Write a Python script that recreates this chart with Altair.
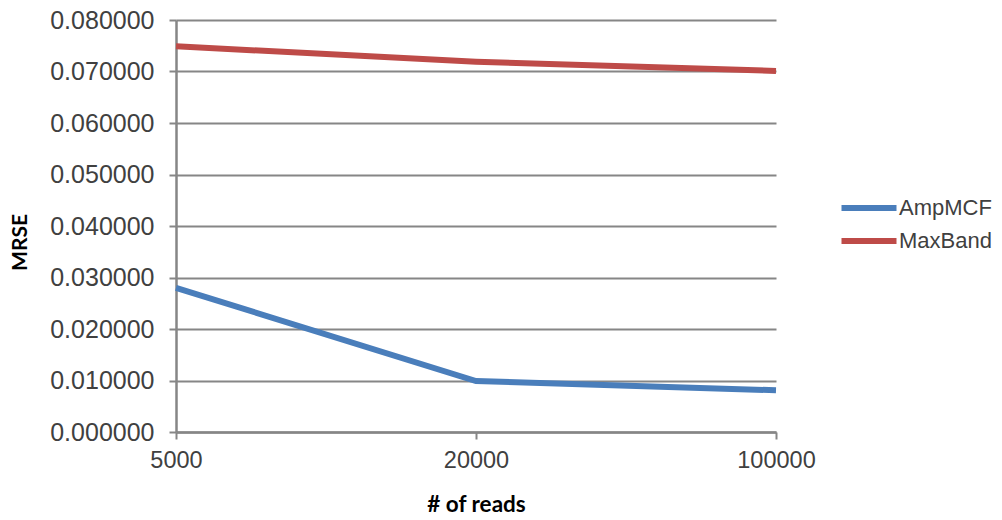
import altair as alt
import pandas as pd

reads = ["5000", "20000", "100000"]
ampmcf = [0.028, 0.0099, 0.0081]
maxband = [0.0749, 0.0719, 0.0701]
series_names = ["AmpMCF", "MaxBand"]
series_colors = ["#4a7ebb", "#be4b48"]

rows = []
for r, v in zip(reads, ampmcf):
    rows.append({"reads": r, "mrse": v, "series": "AmpMCF"})
for r, v in zip(reads, maxband):
    rows.append({"reads": r, "mrse": v, "series": "MaxBand"})
df = pd.DataFrame(rows)

TXT = "#404040"
GRID = "#868686"

chart = alt.Chart(df).mark_line(strokeWidth=6, strokeCap="butt").encode(
    x=alt.X("reads:N", sort=reads,
            scale=alt.Scale(type="point", padding=0),
            axis=alt.Axis(title="# of reads", labelAngle=0, labelFontSize=23.5,
                          labelColor=TXT, labelFont="Liberation Sans", labelPadding=9,
                          tickSize=7, tickColor=GRID, tickWidth=2,
                          domainColor=GRID, domainWidth=2.5, grid=False,
                          titleFont="Lato", titleFontSize=22.5, titleFontWeight="bold",
                          titleColor="black", titleX=300, titleY=72,
                          titleBaseline="middle", titleAlign="center")),
    y=alt.Y("mrse:Q",
            scale=alt.Scale(domain=[0, 0.08], nice=False, zero=True),
            axis=alt.Axis(title="MRSE", format=".6f",
                          values=[0, 0.01, 0.02, 0.03, 0.04, 0.05, 0.06, 0.07, 0.08],
                          labelFontSize=25, labelColor=TXT, labelFont="Liberation Sans",
                          labelPadding=15, tickSize=7, tickColor=GRID, tickWidth=2,
                          domainColor=GRID, domainWidth=2.5,
                          grid=True, gridColor=GRID, gridWidth=2,
                          titleFont="Lato", titleFontSize=21, titleFontWeight="bold",
                          titleColor="black", titleX=-156, titleY=222,
                          titleAngle=270, titleBaseline="middle", titleAlign="center")),
    color=alt.Color("series:N",
                    scale=alt.Scale(domain=series_names, range=series_colors),
                    legend=alt.Legend(title=None, orient="none", legendX=682, legendY=177,
                                      symbolType="M-5,0H5", symbolSize=121,
                                      symbolStrokeWidth=6, labelFontSize=22,
                                      labelFont="Liberation Sans", labelColor=TXT,
                                      labelOffset=19, rowPadding=9, padding=0,
                                      labelLimit=200)),
).properties(
    width=600, height=412,
    autosize=alt.AutoSizeParams(type="none"),
    padding={"left": 176, "top": 20, "right": 226, "bottom": 88},
).configure(background="white").configure_view(stroke="transparent", strokeWidth=0)

chart.save("out.html", embed_options={"renderer": "svg", "actions": False})
